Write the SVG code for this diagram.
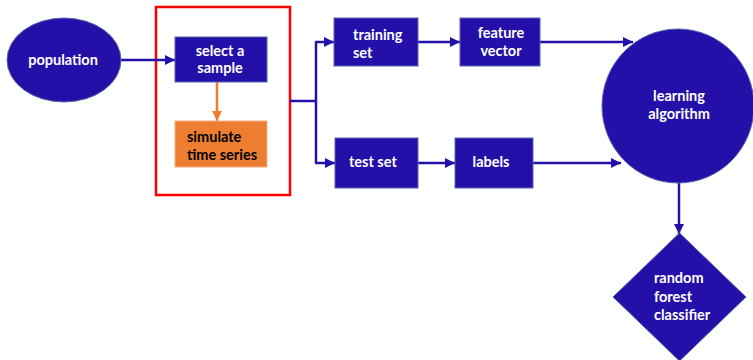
<svg xmlns="http://www.w3.org/2000/svg" width="753" height="360" viewBox="0 0 753 360">
  <style>
    .node { fill: #2410A8; stroke: #5566AA; stroke-width: 1; }
    .orange { fill: #ED7D31; stroke: #F4B183; stroke-width: 1; }
    .lbl { font-family: Lato, "Open Sans", sans-serif; font-weight: bold; font-size: 14.5px; fill: #ffffff; }
    .dark { fill: #000000; }
    .mid { text-anchor: middle; }
    .edge { fill: none; stroke: #2410A8; stroke-width: 2.5; }
    .edge-o { fill: none; stroke: #ED7D31; stroke-width: 2.5; }
  </style>
  <defs>
    <marker id="ah" viewBox="0 0 10 10" refX="10" refY="5" markerWidth="4.4" markerHeight="4" markerUnits="strokeWidth" orient="auto">
      <path d="M0,0 L10,5 L0,10 Z" fill="#2410A8"/>
    </marker>
    <marker id="ah-o" viewBox="0 0 10 10" refX="10" refY="5" markerWidth="4.4" markerHeight="4" markerUnits="strokeWidth" orient="auto">
      <path d="M0,0 L10,5 L0,10 Z" fill="#ED7D31"/>
    </marker>
  </defs>

  <rect x="0" y="0" width="753" height="360" fill="#ffffff"/>

  <!-- sampling stage frame -->
  <rect id="sampling-frame" x="156" y="7" width="134" height="188" fill="none" stroke="#FF0000" stroke-width="2.5"/>

  <g id="connectors">
    <line class="edge" x1="121" y1="60" x2="175" y2="60" marker-end="url(#ah)"/>
    <line class="edge-o" x1="217" y1="82" x2="217" y2="121" marker-end="url(#ah-o)"/>
    <polyline class="edge" points="290,101 316,101"/>
    <line class="edge" x1="316" y1="42" x2="316" y2="163"/>
    <line class="edge" x1="315" y1="42" x2="334" y2="42" marker-end="url(#ah)"/>
    <line class="edge" x1="315" y1="163" x2="335" y2="163" marker-end="url(#ah)"/>
    <line class="edge" x1="418" y1="42" x2="460" y2="42" marker-end="url(#ah)"/>
    <line class="edge" x1="418" y1="163" x2="455" y2="163" marker-end="url(#ah)"/>
    <line class="edge" x1="540" y1="42" x2="633" y2="42" marker-end="url(#ah)"/>
    <line class="edge" x1="533" y1="163" x2="621" y2="163" marker-end="url(#ah)"/>
    <line class="edge" x1="679" y1="182" x2="679" y2="234" marker-end="url(#ah)"/>
  </g>

  <g id="population">
    <ellipse class="node" cx="64" cy="60" rx="57" ry="42"/>
    <text class="lbl mid" x="63" y="65">population</text>
  </g>

  <g id="select-sample">
    <rect class="node" x="175" y="37" width="92" height="45"/>
    <text class="lbl mid" x="220" y="56">select a</text>
    <text class="lbl mid" x="220" y="73">sample</text>
  </g>

  <g id="simulate">
    <rect class="orange" x="175" y="121" width="92" height="46"/>
    <text class="lbl dark" x="187" y="142">simulate</text>
    <text class="lbl dark" x="187" y="160">time series</text>
  </g>

  <g id="training-set">
    <rect class="node" x="334" y="18" width="84" height="48"/>
    <text class="lbl" x="353" y="40">training</text>
    <text class="lbl" x="353" y="58">set</text>
  </g>

  <g id="feature-vector">
    <rect class="node" x="460" y="18" width="80" height="48"/>
    <text class="lbl mid" x="501" y="38">feature</text>
    <text class="lbl mid" x="501" y="56">vector</text>
  </g>

  <g id="test-set">
    <rect class="node" x="335" y="138" width="83" height="50"/>
    <text class="lbl" x="349" y="167">test set</text>
  </g>

  <g id="labels">
    <rect class="node" x="455" y="138" width="78" height="50"/>
    <text class="lbl mid" x="491" y="167">labels</text>
  </g>

  <g id="learning-algorithm">
    <ellipse class="node" cx="678" cy="106" rx="76" ry="77"/>
    <text class="lbl mid" x="679" y="101">learning</text>
    <text class="lbl mid" x="679" y="119">algorithm</text>
  </g>

  <g id="random-forest">
    <polygon class="node" points="679.5,233 746,297 679.5,361 613,297"/>
    <text class="lbl" x="654" y="283">random</text>
    <text class="lbl" x="654" y="302">forest</text>
    <text class="lbl" x="654" y="320">classifier</text>
  </g>
</svg>
